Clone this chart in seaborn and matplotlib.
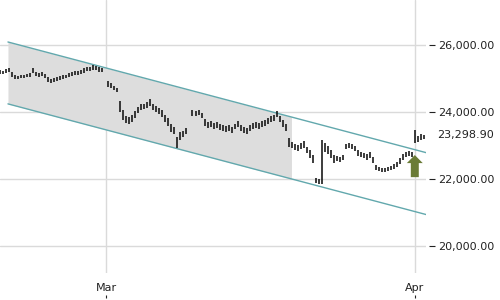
import numpy as np
import pandas as pd
import matplotlib
matplotlib.use("Agg")
import matplotlib.pyplot as plt
import matplotlib.dates as mdates
from matplotlib.patches import FancyArrow
import seaborn as sns

# ---- data ----
start_time = "2025-02-18 08:10"
bar_step_minutes = 435

bar_high = [25250, 25220, 25280, 25310, 25190, 25100, 25070, 25100, 25100, 25130,
            25160, 25310, 25190, 25160, 25190, 25130, 25040, 24980, 25010, 25040,
            25070, 25100, 25100, 25160, 25190, 25220, 25220, 25250, 25310, 25340,
            25340, 25400, 25370, 25340, 25310, np.nan, 24920, 24860, 24770, 24710,
            24330, 24060, 23880, 23850, 23910, 24030, 24150, 24240, 24240, 24300,
            24390, 24240, 24180, 24120, 24060, 23910, 23820, 23640, 23550, 23250,
            23400, 23430, 23520, np.nan, 24060, 24030, 24060, 23970, 23790, 23700,
            23730, 23670, 23700, 23640, 23610, 23580, 23610, 23550, 23640, 23730,
            23610, 23550, 23520, 23610, 23670, 23700, 23670, 23730, 23760, 23820,
            23880, 23910, 24030, 23880, 23760, 23640, 23220, 23100, 23040, 23010,
            23070, 23130, 22950, 22860, 22710, 22020, 21990, 23160, 23070, 22980,
            22860, 22710, 22680, 22650, 22710, 23040, 23070, 23040, 22980, 22860,
            22800, 22770, 22740, 22800, 22650, 22410, 22350, 22320, 22320, 22350,
            22380, 22440, 22500, 22620, 22740, 22800, 22830, 22800, 23460, 23280,
            23340, 23310, 23370]
bar_low = [25130, 25130, 25160, 25190, 25040, 24980, 24980, 25010, 25010, 25040,
           25040, 25160, 25070, 25040, 25070, 25010, 24890, 24860, 24890, 24920,
           24950, 24980, 25010, 25040, 25070, 25100, 25100, 25130, 25160, 25220,
           25220, 25250, 25250, 25190, 25190, np.nan, 24740, 24710, 24650, 24590,
           24000, 23760, 23670, 23640, 23700, 23820, 23970, 24060, 24090, 24120,
           24180, 24060, 24000, 23940, 23850, 23700, 23580, 23400, 23340, 22920,
           23160, 23250, 23340, np.nan, 23880, 23880, 23910, 23820, 23580, 23520,
           23550, 23490, 23520, 23460, 23430, 23400, 23430, 23370, 23490, 23550,
           23430, 23370, 23340, 23430, 23490, 23520, 23490, 23550, 23580, 23640,
           23700, 23730, 23850, 23700, 23550, 23430, 22950, 22920, 22860, 22830,
           22890, 22920, 22770, 22620, 22470, 21870, 21840, 21840, 22800, 22740,
           22620, 22470, 22530, 22500, 22560, 22890, 22920, 22890, 22830, 22680,
           22650, 22620, 22560, 22620, 22470, 22260, 22230, 22200, 22200, 22230,
           22260, 22290, 22350, 22440, 22560, 22650, 22680, 22650, 23070, 23100,
           23160, 23190, 23220]

last_price = 23298.90

channel_dates = ["2025-02-19 03:20", "2025-04-02 07:00"]
channel_upper = [26090, 22770]
channel_lower = [24240, 20920]
shade_end = "2025-03-19 14:40"

arrow_date = "2025-04-01 00:00"
arrow_base = 22050
arrow_tip = 22710

y_ticks = [20000, 22000, 24000, 26000]
x_ticks = ["2025-03-01", "2025-04-01"]
x_tick_labels = ["Mar", "Apr"]

# ---- figure ----
sns.set_theme(style="white")
plt.rcParams["font.family"] = ["DejaVu Sans"]

fig = plt.figure(figsize=(5, 3), dpi=100)
ax = fig.add_axes([0.0, 0.09, 0.852, 0.91])

times = pd.date_range(start=start_time, periods=len(bar_high), freq=f"{bar_step_minutes}min")
tnum = mdates.date2num(times)

# shaded channel region
cd = mdates.date2num(pd.to_datetime(channel_dates))
se = mdates.date2num(pd.Timestamp(shade_end))
xs = np.array([cd[0], se])
up_s = np.interp(xs, cd, channel_upper)
lo_s = np.interp(xs, cd, channel_lower)
ax.fill_between(xs, lo_s, up_s, color="#dddddd", linewidth=0, zorder=1)

# channel lines
chan_df = pd.DataFrame({"date": np.concatenate([cd, cd]),
                        "value": channel_upper + channel_lower,
                        "line": ["upper", "upper", "lower", "lower"]})
sns.lineplot(data=chan_df, x="date", y="value", units="line", estimator=None,
             color="#62a8ad", linewidth=1.0, ax=ax, zorder=3)

# price bars
hi = np.array(bar_high, dtype=float)
lo = np.array(bar_low, dtype=float)
ax.vlines(tnum, lo, hi, colors="#111111", linewidth=1.15, zorder=4)

# arrow
ad = mdates.date2num(pd.Timestamp(arrow_date))
arr = FancyArrow(ad, arrow_base, 0, arrow_tip - arrow_base, width=0.8,
                 head_width=1.6, head_length=240, length_includes_head=True,
                 color="#6a7b36", linewidth=0, zorder=5)
ax.add_patch(arr)

# axes
ax.set_xlim(mdates.date2num(pd.Timestamp("2025-02-18 08:10")),
            mdates.date2num(pd.Timestamp("2025-04-02 03:00")))
ax.set_ylim(19185, 27345)
ax.set_xlabel("")
ax.set_ylabel("")

for s in ax.spines.values():
    s.set_visible(False)
ax.spines["right"].set_position(("outward", 2))
ax.spines["bottom"].set_position(("outward", 18))

ax.yaxis.tick_right()
ax.set_yticks(y_ticks)
ax.set_yticklabels([f"{v:,.2f}" for v in y_ticks])
ax.tick_params(axis="y", direction="out", length=4, width=0.8, pad=2.5,
               labelsize=8, colors="#222222", right=True, left=False)

ax.set_xticks(mdates.date2num(pd.to_datetime(x_ticks)))
ax.set_xticklabels(x_tick_labels)
ax.tick_params(axis="x", direction="in", length=2.5, width=0.8, pad=-11,
               labelsize=8, colors="#222222", bottom=True)

ax.grid(True, color="#dadada", linewidth=1.0)
ax.set_axisbelow(True)

ax.text(1.0 + 11 / (0.852 * 500), last_price, f"{last_price:,.2f}",
        transform=ax.get_yaxis_transform(),
        ha="left", va="center", fontsize=8, color="#222222")

fig.savefig("out.png", dpi=100)
